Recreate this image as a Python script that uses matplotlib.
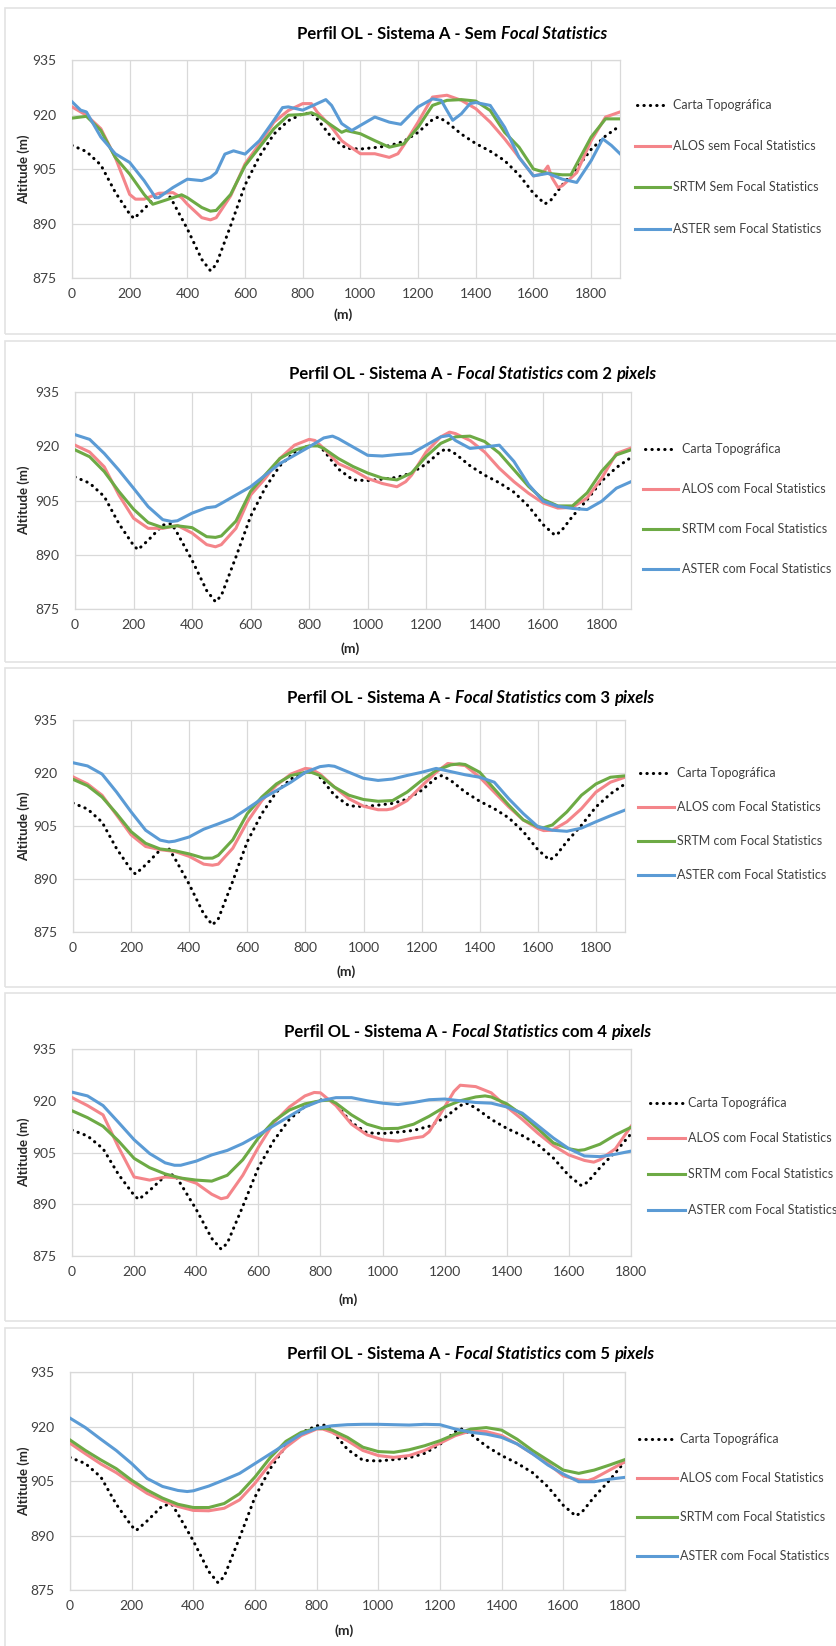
import matplotlib
matplotlib.use('Agg')
import matplotlib.pyplot as plt
from matplotlib.lines import Line2D
from matplotlib.patches import Rectangle
from matplotlib import font_manager as fm

# ---------------- data ----------------
carta_x = [0, 50, 100, 150, 200, 215, 250, 300, 330, 350, 400, 450, 480, 500, 550, 600, 650, 700,
           750, 800, 830, 850, 900, 950, 1000, 1050, 1100, 1150, 1200, 1250, 1270, 1300, 1350, 1400,
           1450, 1500, 1550, 1600, 1640, 1660, 1700, 1750, 1800, 1850, 1900]
carta_y = [911.5, 909.8, 906.1, 898.6, 892.6, 891.4, 894.0, 898.2, 898.6, 895.9, 888.5, 880.1, 877.0,
           878.7, 889.4, 900.6, 908.5, 914.6, 918.3, 920.2, 920.4, 918.8, 913.7, 910.7, 910.5, 910.9,
           911.4, 912.6, 915.1, 918.6, 919.3, 917.9, 914.6, 912.0, 909.9, 907.3, 903.4, 898.3, 895.4,
           896.4, 900.6, 905.2, 910.4, 914.1, 916.9]

# Panel 1 - sem Focal Statistics
p1_alos_x = [0, 50, 100, 150, 200, 220, 250, 300, 350, 380, 400, 450, 480, 500, 550, 600, 650, 700,
             750, 800, 830, 850, 900, 935, 950, 1000, 1050, 1100, 1130, 1150, 1200, 1250, 1300, 1350,
             1400, 1450, 1500, 1550, 1600, 1630, 1650, 1665, 1685, 1700, 1750, 1800, 1850, 1900]
p1_alos_y = [922.1, 919.8, 916.1, 908.2, 898.0, 896.7, 896.7, 898.3, 898.5, 897.1, 895.3, 891.6, 891.0,
             891.6, 897.6, 906.4, 911.9, 917.9, 921.1, 923.0, 923.0, 920.7, 916.5, 912.8, 911.9, 909.2,
             909.2, 908.2, 909.2, 911.5, 917.9, 924.8, 925.3, 923.9, 921.6, 917.9, 913.3, 908.2, 903.1,
             903.6, 905.8, 902.5, 899.9, 900.4, 904.0, 912.8, 919.3, 920.7]
p1_srtm_x = [0, 50, 100, 150, 200, 250, 280, 300, 350, 380, 400, 450, 480, 500, 550, 600, 650, 700,
             750, 800, 830, 850, 900, 935, 950, 1000, 1050, 1100, 1150, 1200, 1250, 1300, 1350, 1400,
             1450, 1500, 1550, 1600, 1650, 1700, 1730, 1750, 1800, 1850, 1900]
p1_srtm_y = [919.0, 919.5, 915.6, 908.2, 903.6, 898.0, 895.3, 895.8, 897.1, 897.9, 897.1, 894.4, 893.4,
             893.6, 898.0, 905.9, 911.0, 916.1, 919.8, 920.0, 920.5, 919.8, 917.0, 915.1, 915.6, 914.7,
             912.8, 911.0, 911.9, 916.5, 922.5, 923.9, 924.1, 923.7, 921.1, 915.1, 911.0, 905.0, 903.8,
             903.4, 903.4, 906.4, 913.8, 918.8, 918.8]
p1_aster_x = [0, 30, 50, 100, 150, 200, 250, 290, 300, 350, 400, 450, 480, 500, 530, 560, 600, 650,
              700, 730, 750, 800, 850, 880, 900, 935, 970, 1000, 1050, 1100, 1140, 1200, 1250, 1280,
              1300, 1320, 1350, 1380, 1400, 1450, 1500, 1550, 1600, 1650, 1700, 1750, 1800, 1840,
              1870, 1900]
p1_aster_y = [923.5, 921.2, 920.7, 913.8, 909.2, 906.8, 901.8, 897.1, 897.1, 899.9, 902.2, 901.8,
              902.7, 904.0, 909.1, 910.0, 909.1, 912.8, 918.4, 921.9, 922.1, 921.2, 923.0, 924.1,
              922.5, 917.5, 915.6, 917.0, 919.3, 917.9, 917.3, 922.1, 924.3, 923.9, 921.1, 918.4,
              920.2, 923.0, 923.3, 922.5, 916.5, 908.2, 903.1, 903.8, 902.2, 901.3, 907.3, 913.3,
              911.5, 909.2]

# Panel 2 - 2 pixels
p2_alos_x = [0, 50, 100, 150, 200, 250, 300, 350, 400, 450, 480, 500, 550, 600, 650, 700, 750, 800,
             820, 850, 900, 950, 1000, 1050, 1100, 1130, 1150, 1200, 1250, 1280, 1300, 1350, 1400,
             1450, 1500, 1550, 1600, 1650, 1700, 1750, 1800, 1850, 1900]
p2_alos_y = [920.3, 918.4, 914.3, 906.5, 900.1, 897.3, 897.3, 898.1, 896.0, 892.8, 892.2, 892.8, 897.3,
             906.5, 911.1, 916.6, 920.3, 921.9, 921.6, 919.4, 915.2, 913.4, 911.1, 909.7, 908.8, 910.2,
             912.0, 918.4, 922.6, 923.9, 923.5, 921.6, 918.4, 913.9, 910.2, 907.0, 904.3, 902.9, 903.1,
             905.7, 911.2, 918.0, 919.5]
p2_srtm_x = [0, 50, 100, 150, 200, 250, 300, 350, 400, 450, 480, 500, 550, 600, 650, 700, 750, 800,
             830, 850, 900, 950, 1000, 1050, 1100, 1150, 1200, 1250, 1300, 1350, 1400, 1450, 1500,
             1550, 1600, 1650, 1700, 1750, 1800, 1850, 1900]
p2_srtm_y = [919.0, 917.1, 913.0, 907.5, 902.6, 898.9, 897.5, 898.0, 897.5, 895.0, 894.8, 895.2, 899.3,
             907.5, 912.1, 916.6, 918.9, 920.1, 920.1, 919.4, 916.6, 914.4, 912.6, 911.2, 910.7, 912.6,
             917.2, 920.8, 922.6, 922.8, 921.3, 918.1, 913.5, 908.9, 905.3, 903.5, 903.5, 907.1, 913.1,
             917.6, 919.0]
p2_aster_x = [0, 50, 100, 150, 200, 250, 300, 330, 350, 400, 450, 480, 500, 550, 600, 650, 700, 750,
              800, 850, 880, 900, 950, 1000, 1050, 1100, 1150, 1200, 1250, 1280, 1300, 1350, 1400,
              1450, 1500, 1550, 1600, 1650, 1700, 1750, 1800, 1850, 1900]
p2_aster_y = [923.2, 921.9, 918.0, 913.4, 908.4, 903.3, 899.7, 899.2, 899.4, 901.5, 903.0, 903.3,
              904.2, 906.5, 908.8, 912.0, 915.2, 917.5, 919.8, 922.3, 922.8, 922.1, 919.8, 917.5,
              917.3, 917.7, 918.0, 920.3, 922.6, 923.0, 921.6, 919.4, 919.8, 920.3, 915.8, 909.4,
              904.8, 903.4, 902.8, 902.5, 904.8, 908.4, 910.2]

# Panel 3 - 3 pixels
p3_alos_x = [0, 50, 100, 150, 200, 250, 300, 350, 400, 450, 480, 500, 550, 600, 650, 700, 750, 800,
             820, 850, 900, 950, 1000, 1050, 1080, 1100, 1150, 1200, 1250, 1290, 1350, 1400, 1450,
             1500, 1550, 1600, 1620, 1650, 1700, 1750, 1800, 1850, 1900]
p3_alos_y = [918.9, 916.9, 913.7, 908.1, 902.5, 899.2, 898.3, 897.8, 896.4, 894.2, 893.9, 894.2, 898.7,
             906.2, 912.2, 916.5, 919.7, 921.3, 921.1, 919.7, 916.0, 912.7, 910.6, 909.6, 909.6, 909.9,
             912.2, 916.3, 920.2, 922.7, 922.1, 918.8, 914.6, 910.4, 906.7, 904.3, 903.7, 903.8, 906.2,
             909.9, 914.6, 917.4, 918.8]
p3_srtm_x = [0, 50, 100, 150, 200, 250, 300, 350, 400, 450, 480, 500, 550, 600, 650, 700, 750, 800,
             820, 850, 900, 950, 1000, 1050, 1100, 1150, 1200, 1250, 1300, 1330, 1350, 1400, 1450,
             1500, 1550, 1600, 1620, 1650, 1700, 1750, 1800, 1850, 1900]
p3_srtm_y = [918.2, 916.4, 913.2, 908.5, 903.4, 900.1, 898.5, 898.0, 897.1, 895.9, 895.9, 896.7, 901.1,
             908.5, 913.2, 916.9, 919.3, 920.2, 920.2, 919.3, 916.0, 913.7, 912.5, 912.0, 912.2, 914.6,
             917.9, 920.7, 922.3, 922.6, 922.4, 920.2, 915.5, 910.9, 906.7, 904.8, 904.5, 905.3, 909.0,
             913.7, 916.9, 918.8, 919.2]
p3_aster_x = [0, 50, 100, 150, 200, 250, 300, 330, 350, 400, 450, 500, 550, 600, 650, 700, 750, 800,
              850, 880, 900, 950, 1000, 1050, 1100, 1150, 1200, 1250, 1300, 1350, 1400, 1450, 1500,
              1550, 1600, 1650, 1700, 1750, 1800, 1850, 1900]
p3_aster_y = [922.9, 922.0, 919.7, 914.6, 909.0, 903.8, 901.0, 900.5, 900.7, 901.9, 904.1, 905.6,
              907.2, 909.9, 912.7, 915.0, 917.4, 920.2, 921.8, 922.1, 921.9, 920.2, 918.5, 917.9,
              918.3, 919.3, 920.2, 921.3, 920.4, 919.5, 918.8, 917.4, 912.7, 908.5, 904.8, 903.8,
              903.5, 904.4, 906.2, 907.9, 909.5]

# Panel 4 - 4 pixels
p4_alos_x = [0, 50, 100, 150, 200, 250, 300, 350, 400, 450, 480, 500, 550, 600, 650, 700, 750, 780,
             800, 850, 900, 950, 1000, 1050, 1100, 1130, 1150, 1200, 1230, 1250, 1300, 1350, 1400,
             1450, 1500, 1550, 1600, 1650, 1680, 1700, 1750, 1800]
p4_alos_y = [920.9, 918.6, 915.9, 906.5, 897.9, 897.0, 897.9, 897.6, 896.1, 892.9, 891.6, 892.0, 898.4,
             906.5, 913.7, 918.2, 921.4, 922.4, 922.3, 918.6, 913.2, 910.1, 908.7, 908.3, 909.2, 909.6,
             911.0, 918.2, 922.7, 924.5, 924.1, 922.3, 918.2, 914.6, 910.6, 907.0, 904.3, 902.7, 902.2,
             902.9, 906.1, 912.6]
p4_srtm_x = [0, 50, 100, 150, 200, 250, 300, 350, 400, 450, 500, 550, 600, 650, 700, 750, 800, 830,
             850, 900, 950, 1000, 1050, 1100, 1150, 1200, 1250, 1300, 1330, 1350, 1400, 1450, 1500,
             1550, 1600, 1630, 1650, 1700, 1750, 1800]
p4_srtm_y = [917.1, 915.1, 912.6, 908.3, 903.3, 900.6, 898.8, 897.6, 897.0, 896.7, 898.4, 902.9, 909.2,
             914.1, 917.3, 919.1, 920.0, 920.2, 919.3, 915.9, 913.2, 911.9, 912.0, 913.2, 915.5, 918.2,
             920.0, 921.1, 921.4, 921.1, 919.1, 915.9, 911.9, 907.8, 906.1, 905.6, 905.8, 907.4, 910.1,
             912.3]
p4_aster_x = [0, 50, 100, 150, 200, 250, 300, 330, 350, 400, 450, 500, 550, 600, 650, 700, 750, 800,
              850, 900, 950, 1000, 1050, 1100, 1150, 1200, 1250, 1300, 1350, 1400, 1450, 1500, 1550,
              1600, 1650, 1700, 1750, 1800]
p4_aster_y = [922.5, 921.4, 918.6, 913.7, 908.7, 904.7, 902.0, 901.3, 901.3, 902.5, 904.3, 905.6,
              907.6, 910.1, 912.8, 915.5, 918.2, 920.0, 920.9, 920.9, 920.0, 919.3, 918.9, 919.5,
              920.3, 920.5, 920.0, 919.5, 919.3, 918.2, 916.4, 912.8, 909.2, 906.1, 904.0, 903.8,
              904.5, 905.4]

# Panel 5 - 5 pixels
p5_alos_x = [0, 50, 100, 150, 200, 250, 300, 350, 400, 450, 500, 550, 600, 650, 700, 750, 800, 820,
             850, 900, 950, 1000, 1050, 1100, 1150, 1200, 1250, 1300, 1350, 1400, 1450, 1500, 1550,
             1600, 1650, 1680, 1700, 1750, 1800]
p5_alos_y = [915.4, 912.5, 909.7, 907.3, 904.4, 901.6, 899.6, 898.0, 896.9, 896.8, 897.5, 899.8, 904.4,
             909.8, 914.3, 917.5, 919.3, 919.3, 918.4, 916.1, 913.4, 912.0, 911.5, 912.0, 913.4, 915.4,
             917.5, 918.8, 918.6, 917.5, 915.2, 912.5, 909.8, 906.4, 905.3, 905.1, 905.7, 908.0, 910.3]
p5_srtm_x = [0, 50, 100, 150, 200, 250, 300, 350, 400, 450, 500, 550, 600, 650, 700, 750, 800, 830,
             850, 900, 950, 1000, 1050, 1100, 1150, 1200, 1250, 1300, 1350, 1400, 1450, 1500, 1550,
             1600, 1650, 1700, 1750, 1800]
p5_srtm_y = [916.3, 913.4, 910.8, 908.4, 905.2, 902.5, 900.3, 898.6, 897.7, 897.7, 898.8, 901.5, 906.1,
             911.5, 915.9, 918.4, 919.5, 919.5, 919.0, 917.0, 914.3, 913.1, 912.9, 913.6, 914.7, 916.1,
             917.9, 919.3, 919.7, 919.0, 916.5, 913.4, 910.7, 908.0, 907.1, 908.0, 909.4, 910.9]
p5_aster_x = [0, 50, 100, 150, 200, 250, 300, 350, 380, 400, 450, 500, 550, 600, 650, 700, 750, 800,
              850, 900, 950, 1000, 1050, 1100, 1150, 1200, 1250, 1300, 1350, 1400, 1450, 1500, 1550,
              1600, 1650, 1700, 1750, 1800]
p5_aster_y = [922.3, 919.7, 916.5, 913.4, 909.8, 905.7, 903.5, 902.4, 902.1, 902.3, 903.6, 905.3,
              907.1, 909.8, 912.5, 915.2, 917.9, 919.5, 920.2, 920.5, 920.6, 920.6, 920.5, 920.4,
              920.6, 920.5, 919.3, 918.4, 917.9, 917.0, 915.2, 912.5, 909.4, 906.9, 904.8, 904.8,
              905.5, 906.0]

y_ticks = [875, 890, 905, 920, 935]
label_carta = "Carta Topográfica"
labels_sem = ["ALOS sem Focal Statistics", "SRTM Sem Focal Statistics", "ASTER sem Focal Statistics"]
labels_com = ["ALOS com Focal Statistics", "SRTM com Focal Statistics", "ASTER com Focal Statistics"]
pixel_counts = [2, 3, 4, 5]

# ---------------- style ----------------
W, H = 837, 1646
C_ALOS = '#F4858A'
C_SRTM = '#6DAA45'
C_ASTER = '#5B9BD5'
C_GRID = '#D9D9D9'
C_TXT = '#404040'


def pick_font(cands):
    for c in cands:
        try:
            fm.findfont(fm.FontProperties(family=c), fallback_to_default=False)
            return c
        except Exception:
            pass
    return 'DejaVu Sans'


FONT = pick_font(['Lato', 'Liberation Sans'])
plt.rcParams['font.family'] = [FONT, 'DejaVu Sans']

fig = plt.figure(figsize=(W / 100, H / 100), dpi=100)
fig.patch.set_facecolor('white')


def fx(x):
    return x / W


def fy(y):
    return 1 - y / H


def rich_title(cx, y, pieces, size):
    r = fig.canvas.get_renderer()
    sp = fig.text(0, 0, "a a", fontsize=size, fontweight='bold')
    nsp = fig.text(0, 0, "aa", fontsize=size, fontweight='bold')
    space_w = sp.get_window_extent(r).width - nsp.get_window_extent(r).width
    sp.remove(); nsp.remove()
    texts, widths = [], []
    for s, ital in pieces:
        t = fig.text(0, 0, s, fontsize=size, fontweight='bold',
                     fontstyle='italic' if ital else 'normal', va='center', ha='left', color='#000000')
        widths.append(t.get_window_extent(r).width)
        texts.append(t)
    total = sum(widths) + space_w * (len(pieces) - 1)
    x = cx - total / 2
    for t, w in zip(texts, widths):
        t.set_position((fx(x), fy(y)))
        x += w + space_w


series_data = [
    (p1_alos_x, p1_alos_y, p1_srtm_x, p1_srtm_y, p1_aster_x, p1_aster_y),
    (p2_alos_x, p2_alos_y, p2_srtm_x, p2_srtm_y, p2_aster_x, p2_aster_y),
    (p3_alos_x, p3_alos_y, p3_srtm_x, p3_srtm_y, p3_aster_x, p3_aster_y),
    (p4_alos_x, p4_alos_y, p4_srtm_x, p4_srtm_y, p4_aster_x, p4_aster_y),
    (p5_alos_x, p5_alos_y, p5_srtm_x, p5_srtm_y, p5_aster_x, p5_aster_y),
]

layout = [
    dict(box=(8, 334), ty=34, tcx=452, ax=(72, 620, 60, 278), xmax=1900, xly=315,
         leg=(635, 670, 673, [105, 146, 187, 229])),
    dict(box=(341, 662), ty=374, tcx=473, ax=(75, 631, 392, 609), xmax=1900, xly=649,
         leg=(643, 678, 682, [449, 489, 529, 569])),
    dict(box=(668, 987), ty=698, tcx=471, ax=(73, 625, 720, 932), xmax=1900, xly=972,
         leg=(638, 674, 677, [773, 807, 841, 875])),
    dict(box=(993, 1321), ty=1032, tcx=468, ax=(72, 631, 1049, 1256), xmax=1800, xly=1300,
         leg=(648, 685, 688, [1103, 1138, 1174, 1210])),
    dict(box=(1328, 1660), ty=1354, tcx=471, ax=(70, 625, 1372, 1590), xmax=1800, xly=1631,
         leg=(637, 677, 680, [1439, 1478, 1517, 1556])),
]

LW = 2.2
for i, (lay, sd) in enumerate(zip(layout, series_data)):
    top, bot = lay['box']
    fig.add_artist(Rectangle((fx(5), fy(bot)), fx(900), (bot - top) / H, transform=fig.transFigure,
                             fill=False, edgecolor='#E3E3E3', lw=1.2))
    l, r, t, b = lay['ax']
    ax = fig.add_axes([fx(l), fy(b), (r - l) / W, (b - t) / H])
    ax.set_xlim(0, lay['xmax'])
    ax.set_ylim(875, 935)
    ax.set_yticks(y_ticks)
    ax.set_xticks(list(range(0, 1801, 200)))
    ax.grid(True, color=C_GRID, lw=0.9)
    ax.set_axisbelow(True)
    for s in ax.spines.values():
        s.set_color(C_GRID)
        s.set_linewidth(0.9)
    ax.tick_params(length=0, labelsize=10, colors=C_TXT)
    ax.tick_params(axis='x', pad=7)
    ax.tick_params(axis='y', pad=11)

    ax.plot(carta_x, carta_y, color='black', lw=LW, linestyle=(0, (0.1, 2.0)),
            dash_capstyle='round', zorder=2)
    ax.plot(sd[0], sd[1], color=C_ALOS, lw=LW, zorder=3, solid_joinstyle='round')
    ax.plot(sd[2], sd[3], color=C_SRTM, lw=LW, zorder=4, solid_joinstyle='round')
    ax.plot(sd[4], sd[5], color=C_ASTER, lw=LW, zorder=5, solid_joinstyle='round')

    # axis labels
    fig.text(fx(24), fy((t + b) / 2), "Altitude (m)", rotation=90, ha='center', va='center',
             fontsize=9.5, fontweight='bold', color='#262626')
    fig.text(fx((l + r) / 2 - 3), fy(lay['xly']), "(m)", ha='center', va='center',
             fontsize=10, fontweight='bold', color='#262626')

    # title
    if i == 0:
        pieces = [("Perfil OL - Sistema A - Sem", False), ("Focal Statistics", True)]
    else:
        pieces = [("Perfil OL - Sistema A -", False), ("Focal Statistics", True),
                  ("com %d" % pixel_counts[i - 1], False), ("pixels", True)]
    rich_title(lay['tcx'], lay['ty'], pieces, 12)

    # legend
    hx0, hx1, tx, ys = lay['leg']
    labs = labels_sem if i == 0 else labels_com
    entries = [(label_carta, 'black', True)] + [(lab, c, False) for lab, c in
                                                 zip(labs, [C_ALOS, C_SRTM, C_ASTER])]
    for (lab, col, dotted), yy in zip(entries, ys):
        if dotted:
            ln = Line2D([fx(hx0 + 2), fx(hx1 - 2)], [fy(yy), fy(yy)], transform=fig.transFigure,
                        color=col, lw=LW, linestyle=(0, (0.1, 2.0)), dash_capstyle='round')
        else:
            ln = Line2D([fx(hx0), fx(hx1)], [fy(yy), fy(yy)], transform=fig.transFigure,
                        color=col, lw=LW)
        fig.add_artist(ln)
        fig.text(fx(tx), fy(yy), lab, ha='left', va='center', fontsize=9, color=C_TXT)

fig.savefig('out.png', dpi=100, facecolor='white')
